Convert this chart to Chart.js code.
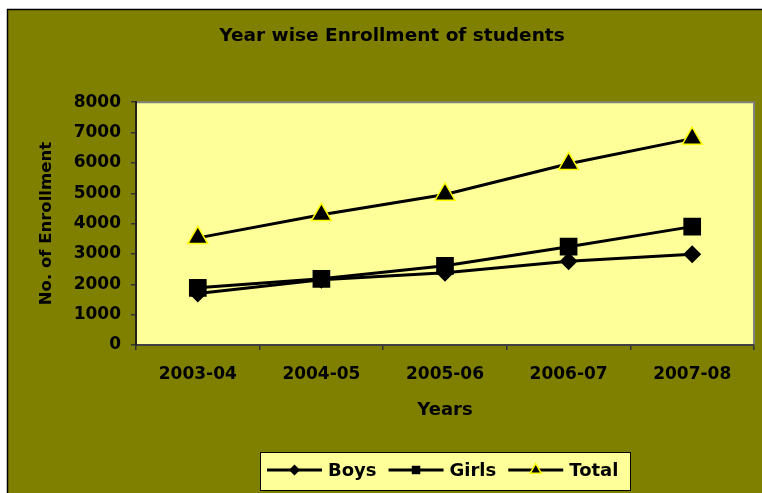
<!DOCTYPE html>
<html>
<head>
<meta charset="utf-8">
<script src="https://cdn.jsdelivr.net/npm/chart.js@4/dist/chart.umd.min.js"></script>
<style>
  html, body { margin: 0; padding: 0; background: #ffffff; }
  canvas { display: block; }
</style>
</head>
<body>
<canvas id="c" width="762" height="493"></canvas>
<script>
const categories = ['2003-04', '2004-05', '2005-06', '2006-07', '2007-08'];
const boys  = [1700, 2150, 2380, 2760, 2990];
const girls = [1885, 2180, 2610, 3240, 3900];
const total = [3530, 4290, 4960, 5970, 6800];
const yTicks = [0, 1000, 2000, 3000, 4000, 5000, 6000, 7000, 8000];
const titleText = 'Year wise Enrollment of students';
const xTitle = 'Years';
const yTitle = 'No. of Enrollment';

const FONT = "'DejaVu Sans', sans-serif";

const backgroundPlugin = {
  id: 'bg',
  beforeDraw(chart) {
    const ctx = chart.ctx;
    const a = chart.chartArea;
    ctx.save();
    ctx.fillStyle = '#ffffff';
    ctx.fillRect(0, 0, chart.width, chart.height);
    ctx.fillStyle = '#808000';
    ctx.fillRect(7, 9, chart.width - 7, chart.height - 9);
    ctx.strokeStyle = '#000000';
    ctx.lineWidth = 1.5;
    ctx.beginPath();
    ctx.moveTo(7.5, chart.height);
    ctx.lineTo(7.5, 9.5);
    ctx.lineTo(chart.width, 9.5);
    ctx.stroke();
    ctx.fillStyle = '#FFFF99';
    ctx.fillRect(a.left, a.top, a.right - a.left, a.bottom - a.top);
    ctx.strokeStyle = '#808080';
    ctx.lineWidth = 2;
    ctx.beginPath();
    ctx.moveTo(a.left, a.top);
    ctx.lineTo(a.right, a.top);
    ctx.lineTo(a.right, a.bottom);
    ctx.stroke();
    ctx.restore();
  }
};

function drawMarker(ctx, style, x, y, r, fill, stroke, lw) {
  ctx.save();
  ctx.fillStyle = fill;
  ctx.strokeStyle = stroke;
  ctx.lineWidth = lw;
  ctx.beginPath();
  if (style === 'rectRot') {
    ctx.moveTo(x - r, y); ctx.lineTo(x, y - r); ctx.lineTo(x + r, y); ctx.lineTo(x, y + r);
  } else if (style === 'rect') {
    const s = r * Math.SQRT1_2;
    ctx.rect(x - s, y - s, 2 * s, 2 * s);
  } else if (style === 'triangle') {
    const h = r;
    ctx.moveTo(x, y - h);
    ctx.lineTo(x + h * 0.866, y + h * 0.5);
    ctx.lineTo(x - h * 0.866, y + h * 0.5);
  }
  ctx.closePath();
  ctx.fill();
  if (lw > 0) ctx.stroke();
  ctx.restore();
}

const legendPlugin = {
  id: 'customLegend',
  afterDraw(chart) {
    const ctx = chart.ctx;
    const bx = 260.5, by = 452.5, bw = 370, bh = 38;
    ctx.save();
    ctx.fillStyle = '#FFFF99';
    ctx.fillRect(bx, by, bw, bh);
    ctx.strokeStyle = '#000000';
    ctx.lineWidth = 1;
    ctx.strokeRect(bx, by, bw, bh);
    ctx.font = 'bold 18px ' + FONT;
    ctx.textBaseline = 'middle';
    ctx.textAlign = 'left';
    const cy = 470;
    let x = 267;
    const legendR = { rectRot: 5.5, rect: 6, triangle: 6.5 };
    chart.data.datasets.forEach(ds => {
      ctx.strokeStyle = '#000000';
      ctx.lineWidth = 3;
      ctx.beginPath();
      ctx.moveTo(x, cy);
      ctx.lineTo(x + 55, cy);
      ctx.stroke();
      drawMarker(ctx, ds.pointStyle, x + 27.5, cy, legendR[ds.pointStyle],
        ds.pointBackgroundColor, ds.pointBorderColor, ds.pointBorderWidth);
      ctx.fillStyle = '#000000';
      ctx.fillText(ds.label, x + 61, cy + 1);
      x = x + 61 + ctx.measureText(ds.label).width + 12;
    });
    ctx.restore();
  }
};

const chart = new Chart(document.getElementById('c'), {
  type: 'line',
  data: {
    labels: categories,
    datasets: [
      { label: 'Boys', data: boys, borderColor: '#000', borderWidth: 3, pointStyle: 'rectRot',
        pointRadius: 9, pointBackgroundColor: '#000', pointBorderColor: '#000', pointBorderWidth: 0 },
      { label: 'Girls', data: girls, borderColor: '#000', borderWidth: 3, pointStyle: 'rect',
        pointRadius: 12.5, pointBackgroundColor: '#000', pointBorderColor: '#000', pointBorderWidth: 0 },
      { label: 'Total', data: total, borderColor: '#000', borderWidth: 3, pointStyle: 'triangle',
        pointRadius: 11.5, pointBackgroundColor: '#000', pointBorderColor: '#FFFF00', pointBorderWidth: 1.5 }
    ]
  },
  options: {
    responsive: false,
    animation: false,
    devicePixelRatio: 1,
    layout: { autoPadding: false, padding: { left: 30, right: 8, top: 0, bottom: 68 } },
    plugins: {
      legend: { display: false },
      tooltip: { enabled: false },
      title: {
        display: true,
        text: titleText,
        color: '#000',
        font: { family: FONT, size: 18.5, weight: 'bold' },
        padding: { top: 25, bottom: 55 }
      }
    },
    scales: {
      x: {
        type: 'category',
        offset: true,
        grid: { display: true, drawOnChartArea: false, drawTicks: true, tickLength: 5, offset: true, color: '#333', lineWidth: 1.5 },
        border: { display: true, color: '#404040', width: 2 },
        ticks: { color: '#000', font: { family: FONT, size: 17, weight: 'bold' }, padding: 14, maxRotation: 0 },
        title: { display: true, text: xTitle, color: '#000', font: { family: FONT, size: 18, weight: 'bold' }, padding: { top: 0, bottom: 4 } },
        afterFit(scale) { scale.height = 80; scale.paddingLeft = 0; scale.paddingRight = 0; }
      },
      y: {
        min: 0,
        max: 8000,
        afterBuildTicks(scale) { scale.ticks = yTicks.map(v => ({ value: v })); },
        grid: { display: true, drawOnChartArea: false, drawTicks: true, tickLength: 5, color: '#333', lineWidth: 1.5 },
        border: { display: true, color: '#202020', width: 2 },
        ticks: { color: '#000', font: { family: FONT, size: 17, weight: 'bold' }, padding: 10,
          callback: (v) => String(v) },
        title: { display: true, text: yTitle, color: '#000', font: { family: FONT, size: 16.5, weight: 'bold' }, padding: { top: 7, bottom: 0 } },
        afterFit(scale) { scale.width = 106; }
      }
    }
  },
  plugins: [backgroundPlugin, legendPlugin]
});
</script>
</body>
</html>
